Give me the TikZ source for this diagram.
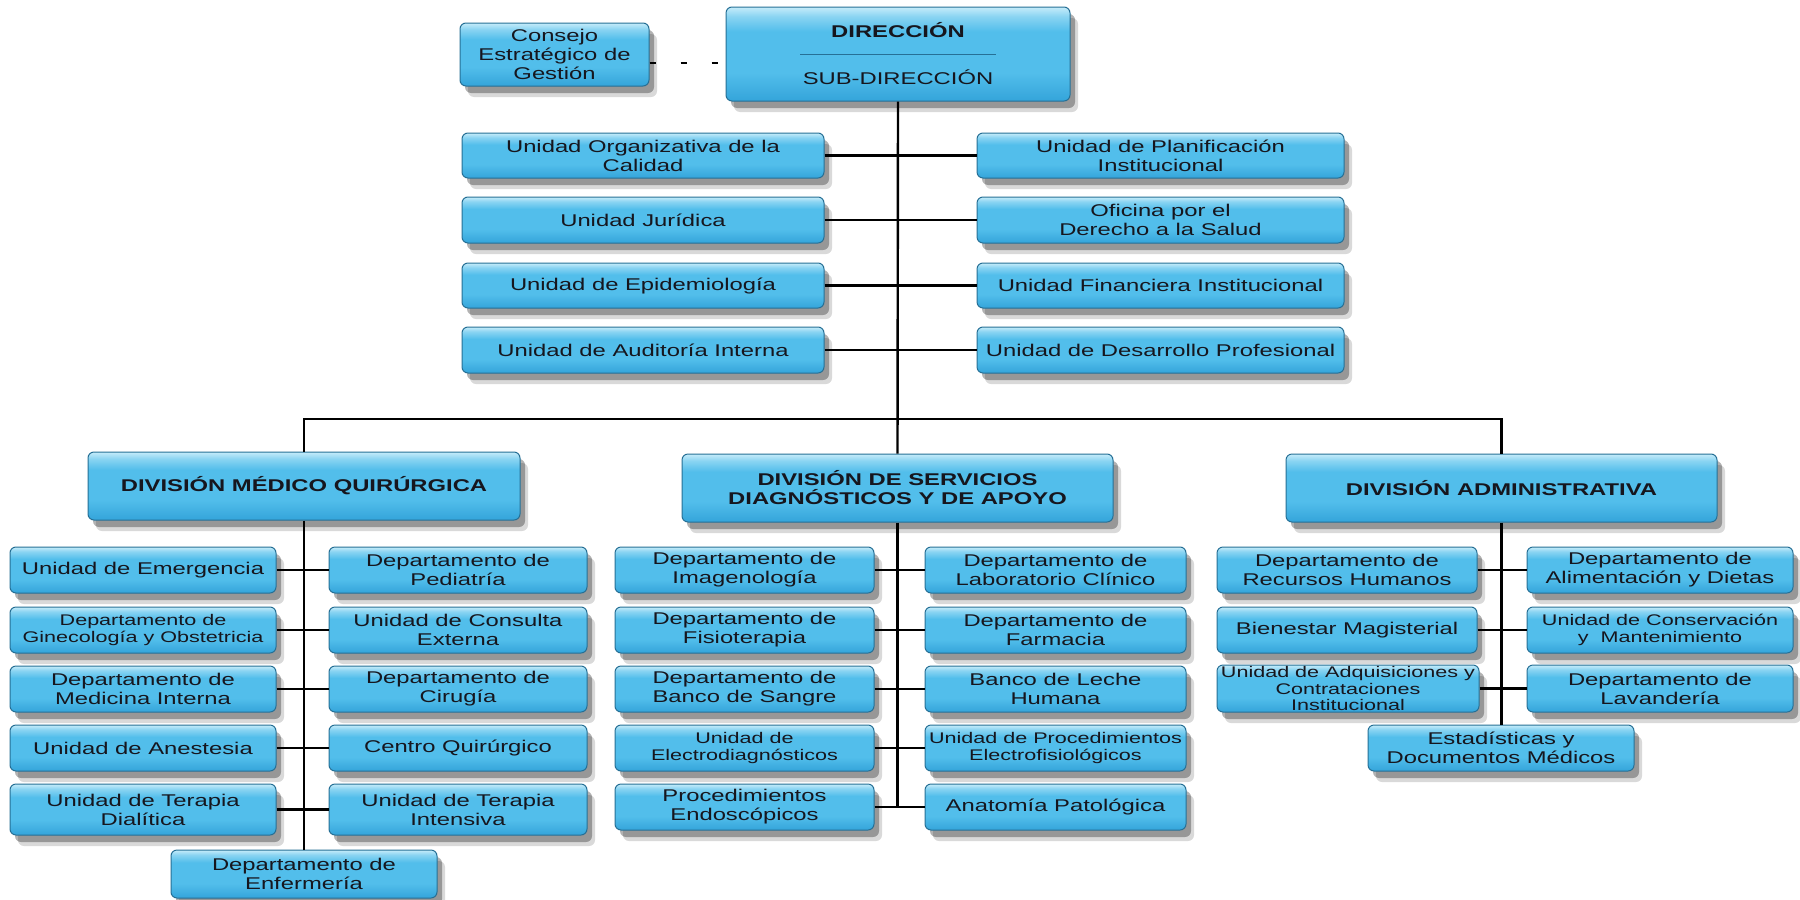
\documentclass[tikz,border=0pt]{standalone}
\usepackage{fontspec}
\setmainfont{Liberation Sans}[FakeStretch=1.4]
\usetikzlibrary{shadows,calc}
\definecolor{btop}{RGB}{198,236,250}
\definecolor{blight}{RGB}{138,212,242}
\definecolor{bmid}{RGB}{82,190,235}
\definecolor{bbot}{RGB}{52,164,218}
\definecolor{bborder}{RGB}{38,112,150}
\definecolor{txt}{RGB}{22,22,30}
\pgfdeclareverticalshading{boxshade}{100bp}{color(0bp)=(bbot); color(25bp)=(bbot); color(40bp)=(bmid); color(62bp)=(bmid); color(70bp)=(blight); color(75bp)=(btop); color(100bp)=(btop)}
% \bx[style]{name}{x1}{y1}{x2}{y2}{text}  (pixel coordinates)
\newcommand\bx[7][box]{\node[#1, minimum width={(#5-#3)*0.5pt}, minimum height={(#6-#4)*0.5pt}] (#2) at ({(#3+#5)/2},{(#4+#6)/2}) {#7};}
\begin{document}
\begin{tikzpicture}[x=0.5pt,y=-0.5pt,
  box/.style={rectangle, rounded corners=3pt, draw=bborder, line width=0.5pt,
    shading=boxshade, inner sep=0pt, align=center, text=txt,
    font=\fontsize{8.5}{9.5}\selectfont,
    drop shadow={shadow xshift=4pt, shadow yshift=-5.5pt, opacity=0.15, fill=black},
    drop shadow={shadow xshift=2.5pt, shadow yshift=-3.5pt, opacity=0.3, fill=black}},
  smallbox/.style={box, font=\fontsize{7.7}{8.6}\selectfont},
  tinybox/.style={box, font=\fontsize{7.7}{8.2}\selectfont},
  divbox/.style={box, font=\fontsize{8.5}{9.5}\selectfont\bfseries},
  conn/.style={line width=1.2pt, draw=black},
  dashconn/.style={line width=1pt, draw=black, dash pattern=on 3pt off 12.5pt}]
\fill[white] (0,0) rectangle (1800,900);
\useasboundingbox (0,0) rectangle (1800,900);

% top
\bx{cons}{460}{23}{649}{86}{Consejo\\Estratégico de\\Gestión}
\bx{dir}{726}{7}{1070}{101}{\textbf{DIRECCIÓN}\\[14pt]SUB-DIRECCIÓN}
\draw[bborder, line width=0.5pt] ([shift={(-98,0)}]dir.center) -- ([shift={(98,0)}]dir.center);

\bx{uL1}{462}{133}{824}{178}{Unidad Organizativa de la\\Calidad}
\bx{uR1}{977}{133}{1344}{178}{Unidad de Planificación\\Institucional}
\bx{uL2}{462}{197}{824}{243}{Unidad Jurídica}
\bx{uR2}{977}{197}{1344}{243}{Oficina por el\\Derecho a la Salud}
\bx{uL3}{462}{263}{824}{308}{Unidad de Epidemiología}
\bx{uR3}{977}{263}{1344}{308}{Unidad Financiera Institucional}
\bx{uL4}{462}{327}{824}{373}{Unidad de Auditoría Interna}
\bx{uR4}{977}{327}{1344}{373}{Unidad de Desarrollo Profesional}

% divisions
\bx[divbox]{dmq}{88}{452}{520}{520}{DIVISIÓN MÉDICO QUIRÚRGICA}
\bx[divbox]{dsd}{682}{454}{1113}{522}{DIVISIÓN DE SERVICIOS\\DIAGNÓSTICOS Y DE APOYO}
\bx[divbox]{da}{1286}{454}{1717}{522}{DIVISIÓN ADMINISTRATIVA}

% medico quirurgica
\bx{mL1}{10}{547}{276}{593}{Unidad de Emergencia}
\bx{mR1}{329}{547}{587}{593}{Departamento de\\Pediatría}
\bx[smallbox]{mL2}{10}{607}{276}{653}{Departamento de\\Ginecología y Obstetricia}
\bx{mR2}{329}{607}{587}{653}{Unidad de Consulta\\Externa}
\bx{mL3}{10}{666}{276}{712}{Departamento de\\Medicina Interna}
\bx{mR3}{329}{666}{587}{712}{Departamento de\\Cirugía}
\bx{mL4}{10}{725}{276}{771}{Unidad de Anestesia}
\bx{mR4}{329}{725}{587}{771}{Centro Quirúrgico}
\bx{mL5}{10}{784}{276}{835}{Unidad de Terapia\\Dialítica}
\bx{mR5}{329}{784}{587}{835}{Unidad de Terapia\\Intensiva}
\bx{enf}{171}{850}{437}{898}{Departamento de\\Enfermería}

% servicios diagnosticos
\bx{dL1}{615}{547}{874}{593}{Departamento de\\Imagenología}
\bx{dR1}{925}{547}{1186}{593}{Departamento de\\Laboratorio Clínico}
\bx{dL2}{615}{607}{874}{653}{Departamento de\\Fisioterapia}
\bx{dR2}{925}{607}{1186}{653}{Departamento de\\Farmacia}
\bx{dL3}{615}{666}{874}{712}{Departamento de\\Banco de Sangre}
\bx{dR3}{925}{666}{1186}{712}{Banco de Leche\\Humana}
\bx[smallbox]{dL4}{615}{725}{874}{771}{Unidad de\\Electrodiagnósticos}
\bx[smallbox]{dR4}{925}{725}{1186}{771}{Unidad de Procedimientos\\Electrofisiológicos}
\bx{dL5}{615}{784}{874}{830}{Procedimientos\\Endoscópicos}
\bx{dR5}{925}{784}{1186}{830}{Anatomía Patológica}

% administrativa
\bx{aL1}{1217}{547}{1477}{593}{Departamento de\\Recursos Humanos}
\bx{aR1}{1527}{547}{1793}{593}{Departamento de\\Alimentación y Dietas}
\bx{aL2}{1217}{607}{1477}{653}{Bienestar Magisterial}
\bx[smallbox]{aR2}{1527}{607}{1793}{653}{Unidad de Conservación\\y\ \ Mantenimiento}
\bx[tinybox]{aL3}{1217}{665}{1479}{712}{Unidad de Adquisiciones y\\Contrataciones\\Institucional}
\bx{aR3}{1527}{665}{1793}{712}{Departamento de\\Lavandería}
\bx{est}{1368}{725}{1634}{771}{Estadísticas y\\Documentos Médicos}

% connectors
\coordinate (bus) at (898,419);
\draw[dashconn] ([yshift=-4pt]cons.east) -- ([yshift=-4pt]cons.east -| dir.west);
\draw[conn] (dir.south) -- (dsd.north);
\foreach \i in {1,...,4} {\draw[conn] (uL\i.east) -- (uR\i.west);}
\draw[conn] (dmq.north) |- (bus) -| (da.north);
\draw[conn] (dmq.south) -- (dmq.south |- enf.north);
\foreach \i in {1,...,5} {\draw[conn] (mL\i.east) -- (mR\i.west);}
\draw[conn] (dsd.south) -- (dsd.south |- dL5.east);
\foreach \i in {1,...,5} {\draw[conn] (dL\i.east) -- (dR\i.west);}
\draw[conn] (da.south) -- (da.south |- est.north);
\foreach \i in {1,...,3} {\draw[conn] (aL\i.east) -- (aR\i.west);}
\end{tikzpicture}
\end{document}
